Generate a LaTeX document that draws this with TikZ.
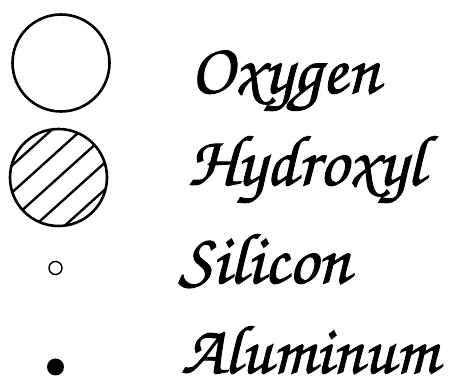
\documentclass[tikz,border=0pt]{standalone}
\usepackage[T1]{fontenc}
\newcommand{\heavytext}[1]{\special{pdf:code 2 Tr 0.9 w}#1\special{pdf:code 0 Tr}}
\tikzset{
  atom/.style={draw=black, line width=2.6pt, circle, inner sep=0pt, minimum size=97pt},
  hatchline/.style={line width=2.4pt},
  smallatom/.style={draw=black, line width=1.4pt, circle, inner sep=0pt, minimum size=13pt},
  dotatom/.style={fill=black, circle, inner sep=0pt, minimum size=17pt},
  lbl/.style={anchor=base west, inner sep=0pt, font=\fontsize{72}{76}\usefont{T1}{pzc}{mb}{it}}
}
\begin{document}
\begin{tikzpicture}[x=1pt,y=-1pt]
\useasboundingbox (0,0) rectangle (451,385);
\node[atom] (oxy) at (61,63) {};
\node[atom] (hyd) at (58.5,177.5) {};
\begin{scope}
  \clip (hyd.center) circle (48.5pt);
  \begin{scope}[shift={(hyd.center)}, rotate=42]
    \foreach \k in {-40,-20,0,20,40} {
      \draw[hatchline] (-60,\k) -- (60,\k);
    }
  \end{scope}
\end{scope}
\node[smallatom] (si) at (55.5,268) {};
\node[dotatom] (al) at (55.5,367) {};
\node[lbl] (toxy) at (190,93) {\heavytext{Oxygen}};
\node[lbl] (thyd) at (187.5,185) {\heavytext{Hydroxyl}};
\node[lbl] (tsi) at (178.5,283) {\heavytext{Silicon}};
\node[lbl, font=\fontsize{69}{72}\usefont{T1}{pzc}{mb}{it}] (tal) at (181,373) {\heavytext{Aluminum}};
\end{tikzpicture}
\end{document}
